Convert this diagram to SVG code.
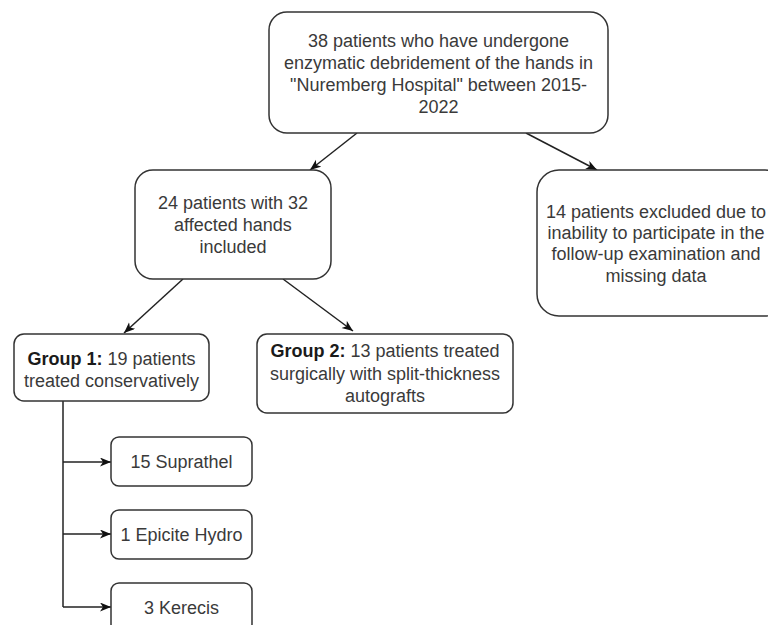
<svg xmlns="http://www.w3.org/2000/svg" width="768" height="625" viewBox="0 0 768 625">
<style>
.box{fill:#fff;stroke:#333;stroke-width:1.5}
.t{font-family:"Liberation Sans",Arial,sans-serif;font-size:18px;fill:#3a3a3a;text-anchor:middle}
.b{font-weight:bold;fill:#1a1a1a}
.c{fill:none;stroke:#222;stroke-width:1.5}
</style>
<defs>
<marker id="ah" markerWidth="12" markerHeight="10" refX="11" refY="4.5" orient="auto" markerUnits="userSpaceOnUse">
<path d="M0,0 L11,4.5 L0,9 L3,4.5 z" fill="#111"/>
</marker>
</defs>
<rect width="768" height="625" fill="#fff"/>
<g id="connectors">
<line class="c" x1="357" y1="133" x2="310" y2="170" marker-end="url(#ah)"/>
<line class="c" x1="526" y1="133" x2="597" y2="170" marker-end="url(#ah)"/>
<line class="c" x1="183" y1="279" x2="124" y2="333" marker-end="url(#ah)"/>
<line class="c" x1="283" y1="279" x2="353" y2="331" marker-end="url(#ah)"/>
<line class="c" x1="63" y1="401" x2="63" y2="607"/>
<line class="c" x1="63" y1="462" x2="111" y2="462" marker-end="url(#ah)"/>
<line class="c" x1="63" y1="534" x2="111" y2="534" marker-end="url(#ah)"/>
<line class="c" x1="63" y1="607" x2="111" y2="607" marker-end="url(#ah)"/>
</g>
<g id="top">
<rect class="box" x="269" y="12" width="339" height="121" rx="18"/>
<text class="t" x="438.5" y="47">38 patients who have undergone</text>
<text class="t" x="438.5" y="69">enzymatic debridement of the hands in</text>
<text class="t" x="438.5" y="91">"Nuremberg Hospital" between 2015-</text>
<text class="t" x="438.5" y="113">2022</text>
</g>
<g id="excluded">
<rect class="box" x="537" y="170" width="250" height="146" rx="22"/>
<text class="t" x="656" y="218">14 patients excluded due to</text>
<text class="t" x="656" y="239">inability to participate in the</text>
<text class="t" x="656" y="260">follow-up examination and</text>
<text class="t" x="656" y="282">missing data</text>
</g>
<g id="included">
<rect class="box" x="135" y="170" width="196" height="109" rx="18"/>
<text class="t" x="233" y="209">24 patients with 32</text>
<text class="t" x="233" y="231">affected hands</text>
<text class="t" x="233" y="253">included</text>
</g>
<g id="group1">
<rect class="box" x="14" y="334" width="195" height="67" rx="10"/>
<text class="t" x="111.5" y="365"><tspan class="b">Group 1:</tspan> 19 patients</text>
<text class="t" x="111.5" y="387">treated conservatively</text>
</g>
<g id="group2">
<rect class="box" x="257" y="334" width="256" height="79" rx="10"/>
<text class="t" x="385" y="357"><tspan class="b">Group 2:</tspan> 13 patients treated</text>
<text class="t" x="385" y="380">surgically with split-thickness</text>
<text class="t" x="385" y="402">autografts</text>
</g>
<g id="suprathel">
<rect class="box" x="111" y="437" width="141" height="49" rx="8"/>
<text class="t" x="181.5" y="468">15 Suprathel</text>
</g>
<g id="epicite">
<rect class="box" x="111" y="510" width="141" height="49" rx="8"/>
<text class="t" x="181.5" y="541">1 Epicite Hydro</text>
</g>
<g id="kerecis">
<rect class="box" x="111" y="583" width="141" height="49" rx="8"/>
<text class="t" x="181.5" y="614">3 Kerecis</text>
</g>
</svg>
